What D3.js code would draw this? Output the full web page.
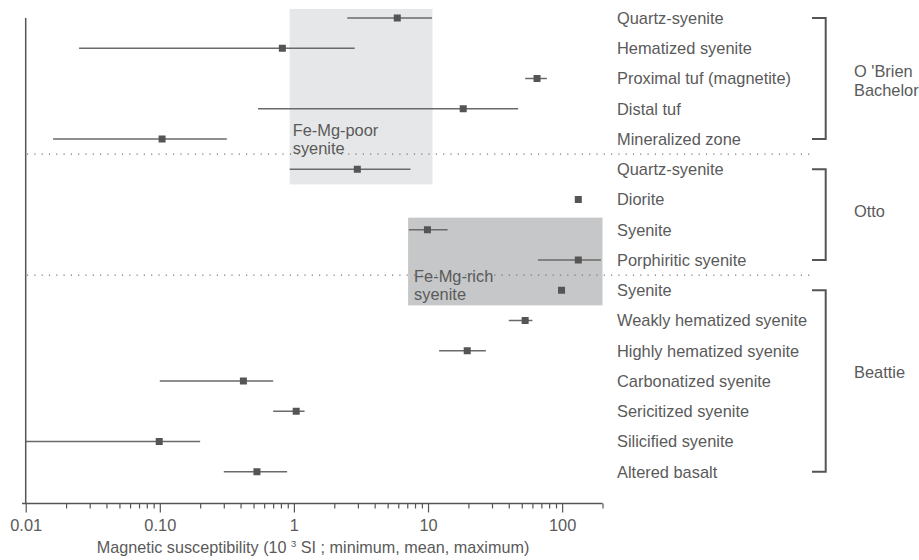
<!DOCTYPE html>
<html>
<head>
<meta charset="utf-8">
<script src="https://cdn.jsdelivr.net/npm/d3@7"></script>
<style>
  body { margin: 0; background: #fff; }
  text { font-family: "Liberation Sans", Arial, sans-serif; fill: #5a5a5a; }
</style>
</head>
<body>
<div id="container"></div>
<script>
// rows, top to bottom
const rocks = ["Quartz-syenite", "Hematized syenite", "Proximal tuf (magnetite)", "Distal tuf", "Mineralized zone",
  "Quartz-syenite", "Diorite", "Syenite", "Porphiritic syenite",
  "Syenite", "Weakly hematized syenite", "Highly hematized syenite", "Carbonatized syenite",
  "Sericitized syenite", "Silicified syenite", "Altered basalt"];
// null = no range shown
const minVals = [2.5, 0.025, 53, 0.54, 0.016, 0.93, null, 7.2, 66, null, 40, 12.1, 0.10, 0.70, 0.01, 0.30];
const meanVals = [5.9, 0.82, 65, 18.3, 0.104, 2.97, 132, 9.9, 132, 99, 53, 19.6, 0.42, 1.04, 0.099, 0.53];
const maxVals = [10.7, 2.84, 77, 47, 0.316, 7.4, null, 14, 195, null, 60, 27, 0.70, 1.20, 0.20, 0.89];

const groups = [
  { name: ["O 'Brien", "Bachelor"], from: 0, to: 4, labelRow: 1.77 },
  { name: ["Otto"], from: 5, to: 8, labelRow: 6.37 },
  { name: ["Beattie"], from: 9, to: 15, labelRow: 11.69 }
];
const separators = [4.5, 8.5];

const zones = [
  { label: ["Fe-Mg-poor", "syenite"], x0: 0.93, x1: 10.8, r0: -0.3, r1: 5.5, fill: "#e6e7e8" },
  { label: ["Fe-Mg-rich", "syenite"], x0: 7.1, x1: 200, r0: 6.6, r1: 9.5, fill: "#c6c7c8" }
];

const xTicks = [0.01, 0.1, 1, 10, 100];
const xTickLabels = ["0.01", "0.10", "1", "10", "100"];

const width = 919, height = 560;

const x = d3.scaleLog().domain([0.01, 200]).range([25.7, 602.5]);
const y = d3.scaleLinear().domain([0, 16]).range([18, 502]);
const axisY = 503.5;

const svg = d3.select("#container").append("svg")
  .attr("width", width).attr("height", height);

// shaded zones
svg.selectAll("rect.zone")
  .data(zones)
  .enter()
  .append("rect")
  .attr("class", "zone")
  .attr("x", d => x(d.x0))
  .attr("width", d => x(d.x1) - x(d.x0))
  .attr("y", d => y(d.r0))
  .attr("height", d => y(d.r1) - y(d.r0))
  .attr("fill", d => d.fill);

// dotted separators
svg.selectAll("line.sep")
  .data(separators)
  .enter()
  .append("line")
  .attr("x1", 27).attr("x2", 813)
  .attr("y1", d => y(d)).attr("y2", d => y(d))
  .attr("stroke", "#777")
  .attr("stroke-width", 1.2)
  .attr("stroke-dasharray", "1.2,6.1");

// zone labels
zones.forEach((z, i) => {
  const t = svg.append("text")
    .attr("x", x(z.x0) + (i == 0 ? 3 : 6))
    .attr("y", i == 0 ? 136 : 282)
    .attr("font-size", "16.4px");
  z.label.forEach((s, j) => {
    t.append("tspan").attr("x", x(z.x0) + (i == 0 ? 3 : 6)).attr("dy", j ? 18 : 0).text(s);
  });
});

const data = rocks.map((r, i) => ({ i, name: r, min: minVals[i], mean: meanVals[i], max: maxVals[i] }));

// range lines
svg.selectAll("line.range")
  .data(data.filter(d => d.min != null))
  .enter()
  .append("line")
  .attr("x1", d => x(d.min)).attr("x2", d => x(d.max))
  .attr("y1", d => y(d.i)).attr("y2", d => y(d.i))
  .attr("stroke", "#6a6a6a")
  .attr("stroke-width", 1.5);

// mean squares
svg.selectAll("rect.mean")
  .data(data)
  .enter()
  .append("rect")
  .attr("x", d => x(d.mean) - 3.5)
  .attr("y", d => y(d.i) - 3.5)
  .attr("width", 7).attr("height", 7)
  .attr("fill", "#555");

// rock labels
svg.selectAll("text.rock")
  .data(data)
  .enter()
  .append("text")
  .attr("x", 617)
  .attr("y", d => y(d.i))
  .attr("dy", "0.36em")
  .attr("font-size", "16.4px")
  .text(d => d.name);

// brackets
groups.forEach(g => {
  const y0 = y(g.from), y1 = y(g.to);
  svg.append("path")
    .attr("d", `M812,${y0}H825.7V${y1}H812`)
    .attr("fill", "none")
    .attr("stroke", "#555")
    .attr("stroke-width", 2);
  g.name.forEach((s, j) => {
    svg.append("text")
      .attr("x", 854)
      .attr("y", y(g.labelRow) + j * 19)
      .attr("dy", "0.36em")
      .attr("font-size", "16.4px")
      .text(s);
  });
});

// y axis line
svg.append("line")
  .attr("x1", 25.7).attr("x2", 25.7)
  .attr("y1", 18).attr("y2", axisY)
  .attr("stroke", "#555").attr("stroke-width", 1.5);

// x axis
const minorTicks = [];
[0.01, 0.1, 1, 10, 100].forEach(b => {
  for (let k = 2; k <= 9; k++) if (b * k <= 200) minorTicks.push(b * k);
});

const xAxis = d3.axisBottom(x)
  .tickValues(xTicks)
  .tickFormat((d, i) => xTickLabels[i])
  .tickSize(9)
  .tickSizeOuter(0);

const gx = svg.append("g")
  .attr("transform", `translate(0,${axisY})`)
  .call(xAxis);
gx.select(".domain").attr("stroke", "#555").attr("stroke-width", 1.5)
  .attr("d", `M22,0H${x(200)}`);
gx.selectAll(".tick line").attr("stroke", "#555").attr("stroke-width", 1.2);
gx.selectAll(".tick text")
  .attr("font-family", '"Liberation Sans", Arial, sans-serif')
  .attr("font-size", "16.4px")
  .attr("fill", "#333")
  .attr("dy", "0.95em");

const minorAxis = d3.axisBottom(x).tickValues(minorTicks).tickFormat("").tickSize(5).tickSizeOuter(0);
const gm = svg.append("g")
  .attr("transform", `translate(0,${axisY})`)
  .call(minorAxis);
gm.select(".domain").remove();
gm.selectAll(".tick line").attr("stroke", "#555").attr("stroke-width", 1.2);

// axis title
const title = svg.append("text")
  .attr("x", 313)
  .attr("y", 553)
  .attr("text-anchor", "middle")
  .attr("font-size", "16.2px");
title.append("tspan").text("Magnetic susceptibility (10 ");
title.append("tspan").attr("font-size", "9.5px").attr("dy", -6).text("3");
title.append("tspan").attr("dy", 6).text(" SI ; minimum, mean, maximum)");
</script>
</body>
</html>
